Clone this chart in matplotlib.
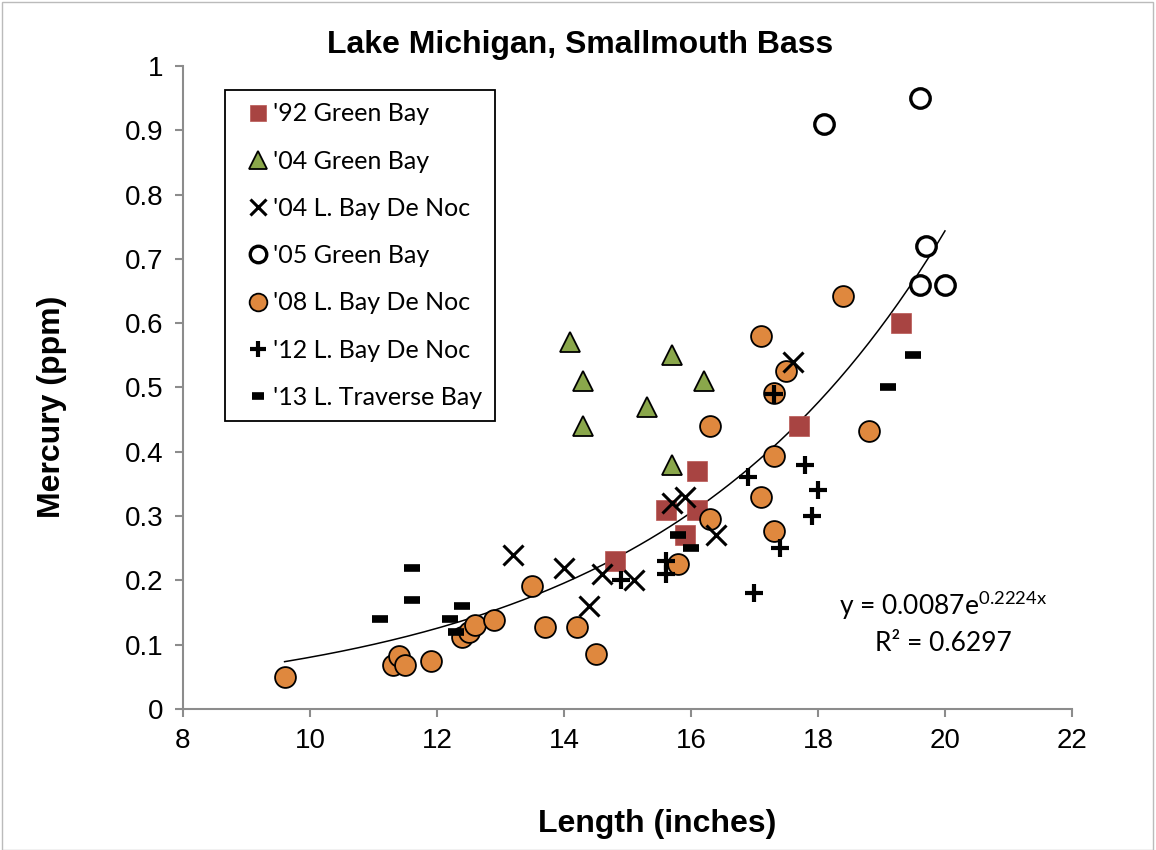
import matplotlib
matplotlib.use("Agg")
import matplotlib.pyplot as plt
import numpy as np

plt.rcParams['font.family'] = ['Liberation Sans', 'DejaVu Sans']
plt.rcParams['mathtext.fontset'] = 'custom'
plt.rcParams['mathtext.rm'] = 'Lato'

# '92 Green Bay
gb92_x = [14.8, 15.6, 15.9, 16.1, 16.1, 17.7, 19.3]
gb92_y = [0.23, 0.31, 0.27, 0.37, 0.31, 0.44, 0.60]
# '04 Green Bay
gb04_x = [14.1, 14.3, 14.3, 15.3, 15.7, 16.2, 15.7]
gb04_y = [0.57, 0.51, 0.44, 0.47, 0.55, 0.51, 0.38]
# '04 L. Bay De Noc
bdn04_x = [13.2, 14.0, 14.4, 14.6, 15.1, 15.7, 15.9, 16.4, 17.6]
bdn04_y = [0.24, 0.22, 0.16, 0.21, 0.20, 0.32, 0.33, 0.27, 0.54]
# '05 Green Bay
gb05_x = [18.1, 19.6, 19.7, 19.6, 20.0]
gb05_y = [0.91, 0.95, 0.72, 0.66, 0.66]
# '08 L. Bay De Noc
bdn08_x = [9.6, 11.3, 11.4, 11.5, 11.9, 12.4, 12.5, 12.6, 12.9, 13.5, 13.7, 14.2,
           14.5, 15.8, 16.3, 16.3, 17.1, 17.1, 17.3, 17.3, 17.3, 17.5, 18.4, 18.8]
bdn08_y = [0.05, 0.069, 0.083, 0.069, 0.075, 0.112, 0.12, 0.13, 0.138, 0.192, 0.128, 0.128,
           0.086, 0.225, 0.295, 0.44, 0.58, 0.33, 0.393, 0.277, 0.492, 0.525, 0.643, 0.432]
# '12 L. Bay De Noc
bdn12_x = [14.9, 15.6, 15.6, 16.9, 17.0, 17.3, 17.4, 17.8, 17.9, 18.0]
bdn12_y = [0.20, 0.23, 0.21, 0.36, 0.18, 0.49, 0.25, 0.38, 0.30, 0.34]
# '13 L. Traverse Bay
ltb13_x = [11.1, 11.6, 11.6, 12.2, 12.3, 12.4, 15.8, 16.0, 19.1, 19.5]
ltb13_y = [0.14, 0.22, 0.17, 0.14, 0.12, 0.16, 0.27, 0.25, 0.50, 0.55]

# exponential trendline
fit_a, fit_b = 0.0087, 0.2224
fit_range = [9.6, 20.0]

fig = plt.figure(figsize=(11.56, 8.5), dpi=100)
ax = fig.add_axes([0.1583, 0.1659, 0.7690, 0.7565])

xt = np.linspace(fit_range[0], fit_range[1], 200)
ax.plot(xt, fit_a * np.exp(fit_b * xt), color='black', lw=1.1, zorder=1)

ax.plot(gb92_x, gb92_y, 's', ms=14, color='#A84442', mec='#B85552', mew=0.5,
        label="'92 Green Bay", zorder=3)
ax.plot(gb04_x, gb04_y, '^', ms=15, color='#8AA74B', mec='black', mew=1.3,
        label="'04 Green Bay", zorder=3)
ax.plot(bdn04_x, bdn04_y, 'x', ms=14, color='black', mew=2.2,
        label="'04 L. Bay De Noc", zorder=4)
ax.plot(gb05_x, gb05_y, 'o', ms=14, mfc='white', mec='black', mew=2.4,
        label="'05 Green Bay", zorder=3)
ax.plot(bdn08_x, bdn08_y, 'o', ms=15, color='#DF883E', mec='black', mew=1.3,
        label="'08 L. Bay De Noc", zorder=3)
ax.plot(bdn12_x, bdn12_y, '+', ms=13, color='black', mew=3,
        label="'12 L. Bay De Noc", zorder=4)
ax.plot(ltb13_x, ltb13_y, '_', ms=11, color='black', mew=5.5,
        label="'13 L. Traverse Bay", zorder=4)

ax.set_xlim(8, 22)
ax.set_ylim(0, 1)
ax.set_xticks(np.arange(8, 23, 2))
ax.set_yticks(np.arange(0, 1.01, 0.1))
ax.set_yticklabels(['0', '0.1', '0.2', '0.3', '0.4', '0.5', '0.6', '0.7', '0.8', '0.9', '1'])

for s in ['top', 'right']:
    ax.spines[s].set_visible(False)
for s in ['left', 'bottom']:
    ax.spines[s].set_color('#8C8C8C')
    ax.spines[s].set_linewidth(1.5)
ax.tick_params(axis='both', direction='out', length=6, width=1.5, color='#8C8C8C',
               labelsize=20, labelcolor='black')
ax.tick_params(axis='x', pad=8)
ax.tick_params(axis='y', pad=8)

fig.text(0.502, 0.947, 'Lake Michigan, Smallmouth Bass', fontsize=23, fontweight='bold',
         ha='center', va='center')
ax.set_xlabel('Length (inches)', fontsize=23, fontweight='bold')
ax.xaxis.set_label_coords(0.533, -0.155)
ax.set_ylabel('Mercury (ppm)', fontsize=23, fontweight='bold')
ax.yaxis.set_label_coords(-0.13, 0.47)

leg = ax.legend(loc='upper left', bbox_to_anchor=(0.047, 0.963), frameon=True,
                fancybox=False, edgecolor='black', framealpha=1,
                prop={'family': 'Lato', 'size': 18}, labelspacing=0.97,
                handlelength=1.64, handletextpad=-0.2, borderpad=0.5,
                borderaxespad=0, markerscale=0.85)
leg.get_frame().set_linewidth(1.3)

ax.text(0.972, 0.083, 'y = 0.0087e$^{\\mathrm{0.2224x}}$\nR² = 0.6297', transform=ax.transAxes,
        ha='right', va='bottom', fontsize=19, family='Lato', linespacing=1.45,
        multialignment='center')

fig.patches.append(plt.Rectangle((0.002, 0.0), 0.995, 0.998, transform=fig.transFigure,
                                 fill=False, edgecolor='#BBBBBB', lw=1))

fig.savefig('out.png', dpi=100)
